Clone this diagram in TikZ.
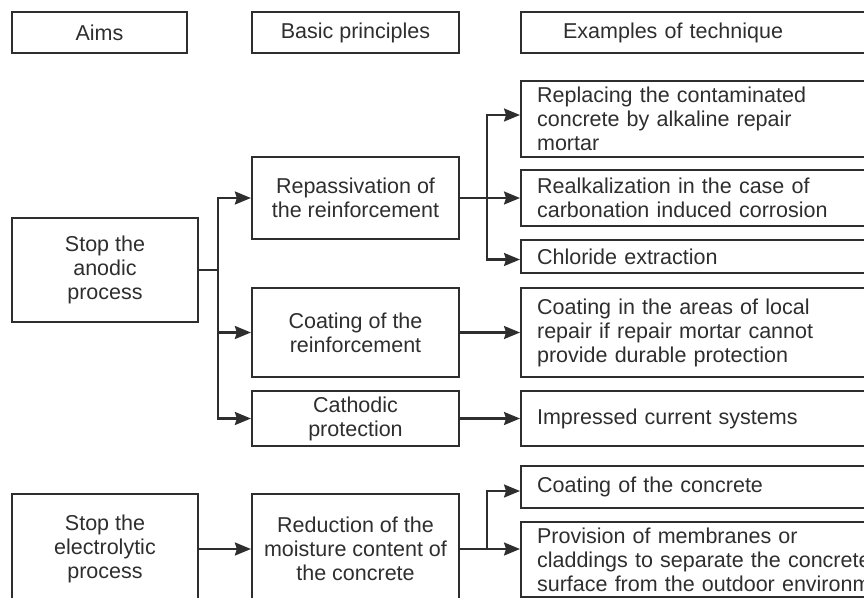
\documentclass[tikz,border=0pt]{standalone}
\usepackage{fontspec}
\setmainfont{Liberation Sans}
\usetikzlibrary{arrows.meta,positioning}

\definecolor{inkgray}{HTML}{2E2E2E}

\tikzset{
  box/.style={draw=inkgray, line width=2.2pt, text=inkgray, inner sep=0pt,
    font=\fontsize{21.5}{24}\selectfont},
  aimbox/.style={box, minimum width=186pt, align=center},
  pribox/.style={box, minimum width=207pt, align=center},
  exbox/.style={box, anchor=west, text width=400pt, inner xsep=16pt, align=left},
  plain/.style={draw=inkgray, line width=2.2pt},
  link/.style={plain, -{Stealth[length=16pt,width=13pt,inset=2pt]}},
}

\begin{document}
\begin{tikzpicture}[x=1pt, y=-1pt]
  \useasboundingbox (0,0) rectangle (864,597);
  \clip (0,0) rectangle (864,597);
  % column headings
  \node[aimbox, minimum width=175pt, minimum height=41pt] (hAims) at (99.5,32.5) {Aims};
  \node[pribox, minimum height=41pt] (hBasic) at (355.5,32.5) {Basic principles};
  \node[exbox, minimum height=41pt, inner xsep=42pt] (hTech) at (520,32.5) {Examples of technique};
  % aims
  \node[aimbox, minimum height=104pt] (anodic) at (105,270) {Stop the\\anodic\\process};
  \node[aimbox, minimum height=110pt] (electro) at (105,549) {Stop the\\electrolytic\\process};
  % basic principles
  \node[pribox, minimum height=82pt] (repass) at (355.5,198) {Repassivation of\\the reinforcement};
  \node[pribox, minimum height=89pt] (coatreinf) at (355.5,332.5) {Coating of the\\reinforcement};
  \node[pribox, minimum height=55pt] (cathodic) at (355.5,418.5) {Cathodic\\protection};
  \node[pribox, minimum height=110pt] (moisture) at (355.5,549) {Reduction of the\\moisture content of\\the concrete};
  % examples of technique
  \node[exbox, minimum height=76pt] (replace) at (520,119) {Replacing the contaminated\\concrete by alkaline repair\\mortar};
  \node[exbox, minimum height=56pt] (realk) at (520,198) {Realkalization in the case of\\carbonation induced corrosion};
  \node[exbox, minimum height=33pt] (chloride) at (520,256.5) {Chloride extraction};
  \node[exbox, minimum height=89pt] (coatlocal) at (520,332.5) {Coating in the areas of local\\repair if repair mortar cannot\\provide durable protection};
  \node[exbox, minimum height=55pt] (impressed) at (520,418.5) {Impressed current systems};
  \node[exbox, minimum height=42pt] (coatconc) at (520,487) {Coating of the concrete};
  \node[exbox, minimum height=75pt] (membrane) at (520,559.5) {Provision of membranes or\\claddings to separate the concrete\\surface from the outdoor environment};
  % branch points
  \coordinate (forkA) at (218,270);
  \coordinate (forkB) at (487,198);
  \coordinate (forkC) at (487,549);
  % connectors
  \draw[plain] (anodic.east) -- (forkA);
  \draw[link] (forkA) |- (repass.west);
  \draw[link] (forkA) |- (coatreinf.west);
  \draw[link] (forkA) |- (cathodic.west);
  \draw[link] (repass.east) -- (realk.west);
  \draw[link] (forkB) |- ([yshift=4pt]replace.west);
  \draw[link] (forkB) |- ([yshift=-3pt]chloride.west);
  \draw[link] (coatreinf.east) -- (coatlocal.west);
  \draw[link] (cathodic.east) -- (impressed.west);
  \draw[link] (electro.east) -- (moisture.west);
  \draw[link] (moisture.east) -- (moisture.east -| membrane.west);
  \draw[link] (forkC) |- ([yshift=-4pt]coatconc.west);
\end{tikzpicture}
\end{document}
